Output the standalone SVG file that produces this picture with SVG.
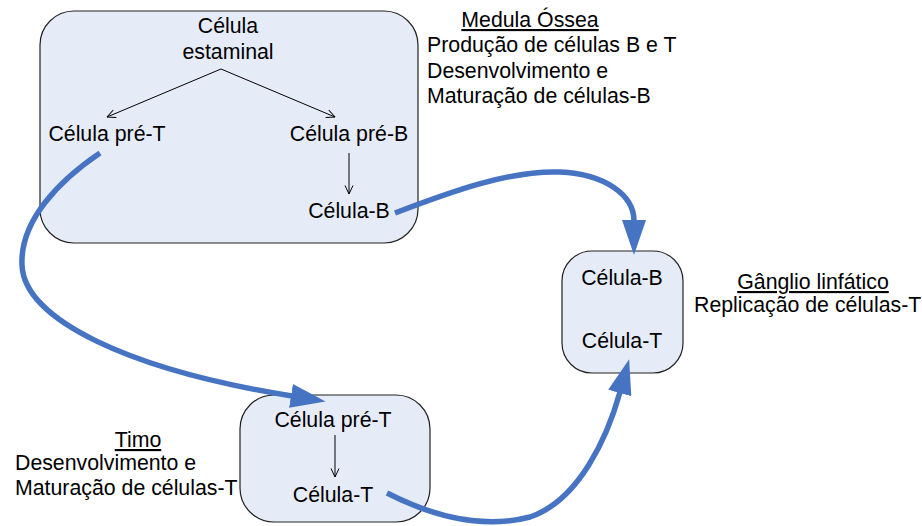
<svg xmlns="http://www.w3.org/2000/svg" width="922" height="526" viewBox="0 0 922 526">
<style>
text{font-family:"Liberation Sans",Arial,sans-serif;font-size:21.3px;fill:#000}
.c{text-anchor:middle}
.u{text-decoration:underline}
.box{fill:#e6ecf7;stroke:#222;stroke-width:1.2}
.thin{fill:none;stroke:#000;stroke-width:1;marker-end:url(#open)}
.blue{fill:none;stroke:#4674c3;stroke-width:5.5;marker-end:url(#big)}
</style>
<defs>
<marker id="open" viewBox="0 0 10 10" refX="9.5" refY="5" markerWidth="10" markerHeight="10" markerUnits="userSpaceOnUse" orient="auto">
<path d="M1,1 L9.5,5 L1,9" fill="none" stroke="#000" stroke-width="1"/>
</marker>
<marker id="big" viewBox="0 0 35 24" refX="1" refY="12" markerWidth="35" markerHeight="24" markerUnits="userSpaceOnUse" orient="auto">
<path d="M0,0 L35,12 L0,24 z" fill="#4674c3"/>
</marker>
</defs>
<g id="medula">
<rect class="box" x="40" y="11" width="378" height="232" rx="34" ry="34"/>
<text class="c" x="228" y="33">Célula</text>
<text class="c" x="228" y="59">estaminal</text>
<text class="c" x="107" y="141">Célula pré-T</text>
<text class="c" x="349" y="141">Célula pré-B</text>
<text class="c" x="349" y="218">Célula-B</text>
</g>
<g id="medula-label">
<text class="c u" x="530" y="27">Medula Óssea</text>
<text x="427" y="52">Produção de células B e T</text>
<text x="427" y="78">Desenvolvimento e</text>
<text x="427" y="103">Maturação de células-B</text>
</g>
<g id="ganglio">
<rect class="box" x="562" y="251" width="121" height="122" rx="30" ry="30"/>
<text class="c" x="622" y="285">Célula-B</text>
<text class="c" x="622" y="348">Célula-T</text>
</g>
<g id="ganglio-label">
<text class="c u" x="813" y="289">Gânglio linfático</text>
<text x="694" y="312">Replicação de células-T</text>
</g>
<g id="timo">
<rect class="box" x="240" y="395" width="190" height="127" rx="34" ry="34"/>
<text class="c" x="333" y="427">Célula pré-T</text>
<text class="c" x="333" y="502">Célula-T</text>
</g>
<g id="timo-label">
<text class="c u" x="138" y="447">Timo</text>
<text x="15" y="470">Desenvolvimento e</text>
<text x="15" y="495">Maturação de células-T</text>
</g>
<g id="connectors">
<path class="thin" d="M221,69 L107,117"/>
<path class="thin" d="M221,69 L335,117"/>
<path class="thin" d="M349,153 L349,194"/>
<path class="thin" d="M335,435 L335,477"/>
<path class="blue" d="M100,153 C60,180 20,220 22,265 C24,320 130,370 292,396"/>
<path class="blue" d="M395,213 C450,192 510,170 560,172 C605,174 634,195 634,221"/>
<path class="blue" d="M387,493 C430,515 480,530 530,517 C580,500 608,435 620,392"/>
</g>
</svg>
